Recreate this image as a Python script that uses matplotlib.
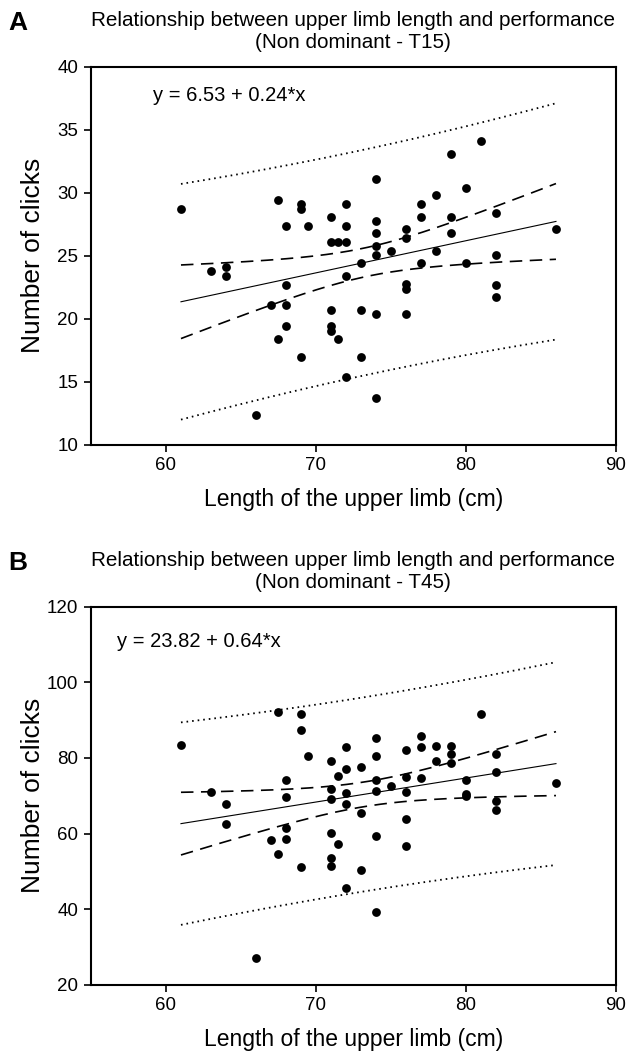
import numpy as np
import matplotlib.pyplot as plt

plt.rcParams['font.family'] = ['Liberation Sans', 'DejaVu Sans']

# Panel A: Non dominant - T15
x_t15 = [61, 63, 64, 64, 66, 67, 67.5, 67.5, 68, 68, 68, 68, 69, 69, 69.5, 69,
         71, 71, 71, 71, 71, 71.5, 71.5, 72, 72, 72, 72, 72, 73, 73, 73,
         74, 74, 74, 74, 74, 74, 74, 75, 76, 76, 76, 76, 76, 77, 77, 77,
         78, 78, 79, 79, 79, 80, 80, 81, 82, 82, 82, 82, 86]
y_t15 = [28.7, 23.8, 24.1, 23.4, 12.4, 21.1, 29.4, 18.4, 27.4, 22.7, 21.1, 19.4, 29.1, 28.7, 27.4, 17.0,
         28.1, 26.1, 20.7, 19.4, 19.05, 26.1, 18.4, 29.1, 27.4, 26.1, 23.4, 15.4, 24.4, 20.7, 17.0,
         31.1, 27.8, 26.8, 25.8, 25.1, 20.4, 13.7, 25.4, 27.1, 26.4, 22.8, 22.4, 20.4, 29.1, 28.1, 24.4,
         29.8, 25.4, 33.1, 28.1, 26.8, 30.4, 24.4, 34.1, 28.4, 25.1, 22.7, 21.7, 27.1]

# Panel B: Non dominant - T45
x_t45 = [61, 63, 64, 64, 66, 67, 67.5, 67.5, 68, 68, 68, 68, 69, 69, 69, 69.5,
         71, 71, 71, 71, 71, 71, 71.5, 71.5, 72, 72, 72, 72, 72, 73, 73, 73,
         74, 74, 74, 74, 74, 74, 75, 76, 76, 76, 76, 76, 77, 77, 77,
         78, 78, 79, 79, 79, 80, 80, 80, 81, 82, 82, 82, 82, 86]
y_t45 = [83.5, 71.1, 67.9, 62.5, 27.1, 58.3, 92.2, 54.5, 74.2, 69.6, 61.5, 58.5, 91.6, 87.5, 51.2, 80.6,
         79.3, 71.9, 69.1, 60.2, 53.6, 51.5, 75.2, 57.2, 83.0, 77.0, 70.8, 67.9, 45.5, 77.7, 65.5, 50.5,
         85.2, 80.6, 74.2, 71.2, 59.4, 39.2, 72.6, 82.1, 74.9, 70.9, 63.8, 56.8, 85.9, 83.0, 74.6,
         83.2, 79.3, 83.2, 81.0, 78.7, 74.3, 70.6, 69.9, 91.6, 81.0, 76.2, 68.7, 66.2, 73.5]


def bands(x, y):
    # linear fit with 95% confidence and prediction bands
    x = np.asarray(x, float)
    y = np.asarray(y, float)
    n = len(x)
    b, a = np.polyfit(x, y, 1)
    resid = y - (a + b * x)
    s = np.sqrt(np.sum(resid ** 2) / (n - 2))
    xbar = x.mean()
    sxx = np.sum((x - xbar) ** 2)
    xs = np.linspace(x.min(), x.max(), 200)
    yhat = a + b * xs
    t = 2.0
    ci = t * s * np.sqrt(1 / n + (xs - xbar) ** 2 / sxx)
    pi = t * s * np.sqrt(1 + 1 / n + (xs - xbar) ** 2 / sxx)
    return xs, yhat, ci, pi


def draw_panel(ax, x, y, ylim, yticks, subtitle, letter, eq, eq_pos, top_px):
    xs, yhat, ci, pi = bands(x, y)
    ax.plot(xs, yhat, color="black", lw=0.8)
    for sign in (1, -1):
        ax.plot(xs, yhat + sign * ci, color="black", lw=1.2, dashes=(7.5, 4.5))
        ax.plot(xs, yhat + sign * pi, color="black", lw=1.3, dashes=(0.9, 2.2))
    ax.scatter(x, y, s=40, color="black", zorder=3, linewidths=0)

    ax.set_xlim(55, 90)
    ax.set_ylim(*ylim)
    ax.set_xticks([60, 70, 80, 90])
    ax.set_yticks(yticks)
    for sp in ax.spines.values():
        sp.set_linewidth(1.5)
    ax.tick_params(direction="out", length=5, width=1.2, labelsize=13.5, pad=4)
    ax.set_xlabel("Length of the upper limb (cm)", fontsize=16.5)
    ax.set_ylabel("Number of clicks", fontsize=19)
    ax.xaxis.set_label_coords(0.5, -0.113)
    ax.yaxis.set_label_coords(-0.088, 0.5)
    ax.text(eq_pos[0], eq_pos[1], eq, transform=ax.transAxes, fontsize=14.5,
            ha="left", va="center")

    H = 1053.0
    fig = ax.figure
    fig.text(353 / 627, 1 - (top_px - 46.7) / H,
             "Relationship between upper limb length and performance",
             fontsize=14.9, ha="center", va="center")
    fig.text(353 / 627, 1 - (top_px - 23.7) / H, "(" + subtitle + ")",
             fontsize=14.9, ha="center", va="center")
    fig.text(18 / 627, 1 - (top_px - 44.2) / H, letter, fontsize=19,
             fontweight="bold", ha="center", va="center")


fig = plt.figure(figsize=(6.27, 10.53), dpi=100)
ax_a = fig.add_axes([0.1451, 0.5774, 0.8373, 0.3593])
ax_b = fig.add_axes([0.1451, 0.0646, 0.8373, 0.3593])

draw_panel(ax_a, x_t15, y_t15, (10, 40), range(10, 41, 5),
           "Non dominant - T15", "A", "y = 6.53 + 0.24*x", (0.118, 0.925), 66.7)
draw_panel(ax_b, x_t45, y_t45, (20, 120), range(20, 121, 20),
           "Non dominant - T45", "B", "y = 23.82 + 0.64*x", (0.05, 0.9075), 606.7)

fig.savefig("out.png", dpi=100)
